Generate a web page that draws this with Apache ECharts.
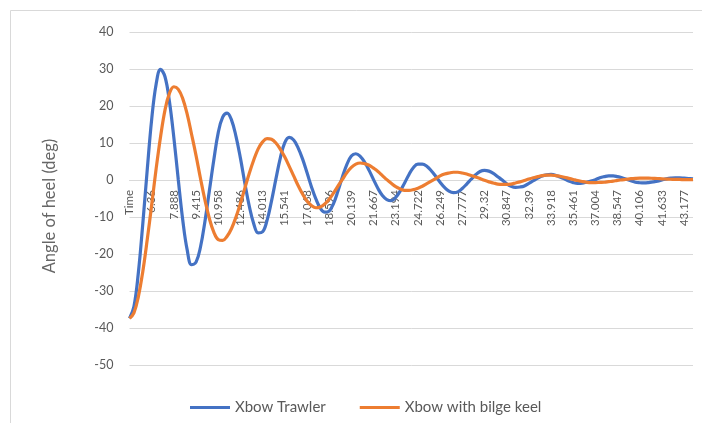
<!DOCTYPE html>
<html>
<head>
<meta charset="utf-8">
<script src="https://cdn.jsdelivr.net/npm/echarts@6/dist/echarts.min.js"></script>
<style>
html,body{margin:0;padding:0;background:#fff;}
#chart{width:702px;height:423px;}
</style>
</head>
<body>
<div id="chart"></div>
<script>
// Visible category labels (every 5th plotted point)
const tickLabels = ['Time','6.36','7.888','9.415','10.958','12.486','14.013','15.541','17.068','18.596',
  '20.139','21.667','23.194','24.722','26.249','27.777','29.32','30.847','32.39','33.918',
  '35.461','37.004','38.547','40.106','41.633','43.177'];

const seriesNames = ['Xbow Trawler','Xbow with bilge keel'];

const xbowTrawler = [
  -37.4,-34.2,-25.0,-11.8,2.8,16.4,25.9,29.9,27.9,21.2,
  11.4,0.0,-10.8,-18.9,-22.9,-22.2,-18.1,-11.2,-2.9,5.4,
  12.8,17.0,18.1,16.2,11.8,5.9,-0.9,-7.1,-11.8,-14.3,
  -14.0,-10.9,-5.7,0.3,6.0,10.1,11.5,10.8,8.7,5.7,
  2.0,-1.8,-5.1,-7.6,-8.7,-8.4,-6.3,-2.9,0.9,4.2,
  6.5,7.1,6.4,4.8,2.6,0.1,-2.3,-4.2,-5.3,-5.6,
  -4.7,-3.0,-0.8,1.5,3.4,4.3,4.3,3.7,2.5,1.0,
  -0.6,-2.0,-3.0,-3.4,-3.2,-2.3,-1.1,0.2,1.4,2.3,
  2.6,2.4,1.8,0.9,0.0,-1.0,-1.7,-2.0,-1.9,-1.6,
  -0.9,-0.2,0.5,1.1,1.4,1.5,1.3,0.8,0.3,-0.3,
  -0.7,-0.9,-0.85,-0.6,-0.3,0.1,0.6,0.9,1.1,1.1,
  0.9,0.6,0.2,-0.2,-0.6,-0.75,-0.8,-0.7,-0.5,-0.3,
  0.0,0.3,0.5,0.6,0.6,0.5,0.4,0.3
];

const xbowBilgeKeel = [
  -37.4,-35.9,-31.5,-24.7,-16.1,-6.7,3.0,11.7,18.9,23.4,
  25.2,24.5,22.0,17.8,12.3,6.6,0.4,-5.4,-10.4,-14.1,
  -16.1,-16.3,-15.2,-13.1,-10.0,-6.3,-2.2,1.8,5.4,8.4,
  10.3,11.2,11.0,10.0,8.3,6.2,3.7,1.1,-1.5,-3.8,
  -5.7,-6.9,-7.5,-7.3,-6.5,-5.2,-3.5,-1.6,0.2,2.0,
  3.4,4.3,4.6,4.4,4.0,3.2,2.3,1.2,0.1,-0.9,
  -1.8,-2.4,-2.8,-2.8,-2.6,-2.2,-1.7,-1.0,-0.3,0.4,
  1.1,1.6,1.9,2.1,2.1,1.9,1.6,1.2,0.8,0.4,
  -0.1,-0.5,-0.8,-1.1,-1.2,-1.2,-1.1,-0.8,-0.5,-0.15,
  0.25,0.6,0.9,1.2,1.3,1.3,1.2,1.0,0.75,0.45,
  0.15,-0.15,-0.4,-0.6,-0.7,-0.7,-0.65,-0.6,-0.45,-0.3,
  -0.1,0.05,0.2,0.35,0.45,0.5,0.5,0.5,0.45,0.4,
  0.3,0.25,0.2,0.15,0.15,0.1,0.1,0.1
];

const yTicks = {min: -50, max: 40, step: 10};

const categories = xbowTrawler.map((_, i) => (i % 5 === 0 && tickLabels[i / 5] !== undefined) ? tickLabels[i / 5] : '');

const FONT = 'Lato, "Open Sans", sans-serif';
const GRID_TOP = 32, GRID_BOTTOM = 58, H = 423;
const plotH = H - GRID_TOP - GRID_BOTTOM;
const zeroOffset = -plotH * (0 - yTicks.min) / (yTicks.max - yTicks.min);

const chart = echarts.init(document.getElementById('chart'), null, {renderer: 'canvas'});
chart.setOption({
  animation: false,
  backgroundColor: '#ffffff',
  graphic: [{
    type: 'rect', silent: true, z: -1,
    shape: {x: 10.5, y: 10.5, width: 720, height: 440},
    style: {fill: 'none', stroke: '#d9d9d9', lineWidth: 1}
  }],
  grid: {left: 129.5, right: 9, top: GRID_TOP, bottom: GRID_BOTTOM, containLabel: false},
  legend: {
    left: 185, top: 395,
    itemWidth: 40, itemHeight: 3, itemGap: 34,
    icon: 'rect',
    textStyle: {color: '#595959', fontSize: 15, fontFamily: FONT},
    data: seriesNames
  },
  xAxis: {
    type: 'category',
    boundaryGap: false,
    data: categories,
    offset: zeroOffset,
    axisLine: {onZero: false, lineStyle: {color: '#d9d9d9', width: 1}},
    axisTick: {show: false},
    splitLine: {show: false},
    axisLabel: {
      interval: 4, rotate: 90, margin: 10,
      color: '#595959', fontSize: 11.5, fontFamily: FONT
    }
  },
  yAxis: {
    type: 'value',
    min: yTicks.min, max: yTicks.max, interval: yTicks.step,
    name: 'Angle of heel (deg)',
    nameLocation: 'middle', nameGap: 71, nameRotate: 90,
    nameTextStyle: {color: '#666666', fontSize: 16.5, fontFamily: FONT, padding: [0, 15, 0, 0]},
    axisLine: {show: false},
    axisTick: {show: false},
    splitLine: {lineStyle: {color: '#d9d9d9', width: 1}},
    axisLabel: {color: '#595959', fontSize: 12.5, margin: 16, fontFamily: FONT}
  },
  series: [
    {
      name: seriesNames[0], type: 'line', data: xbowTrawler,
      smooth: 0.4, showSymbol: false, symbol: 'none',
      lineStyle: {color: '#4472C4', width: 3.2},
      itemStyle: {color: '#4472C4'}
    },
    {
      name: seriesNames[1], type: 'line', data: xbowBilgeKeel,
      smooth: 0.4, showSymbol: false, symbol: 'none',
      lineStyle: {color: '#ED7D31', width: 3.2},
      itemStyle: {color: '#ED7D31'}
    }
  ]
});
</script>
</body>
</html>
